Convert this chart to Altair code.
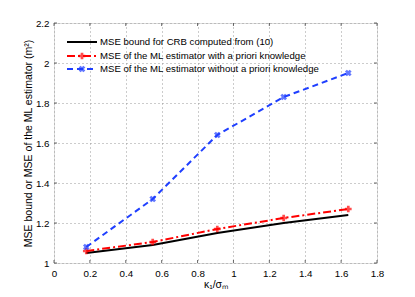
import altair as alt
import pandas as pd

x_vals = [0.18, 0.55, 0.91, 1.28, 1.64]
crb = [1.05, 1.09, 1.15, 1.20, 1.24]
ml_prior = [1.06, 1.105, 1.17, 1.225, 1.27]
ml_noprior = [1.08, 1.32, 1.64, 1.83, 1.95]

x_ticks = [0, 0.2, 0.4, 0.6, 0.8, 1, 1.2, 1.4, 1.6, 1.8]
y_ticks = [1, 1.2, 1.4, 1.6, 1.8, 2, 2.2]

names = [
    "MSE bound for CRB computed from (10)",
    "MSE of the ML estimator with a priori knowledge",
    "MSE of the ML estimator without a priori knowledge",
]
colors = ["#000000", "#ff0000", "#1f3fff"]
dashes = [[1, 0], [8, 3, 2, 3], [6, 4]]

FONT = "Liberation Sans"
W, H = 323, 240

df = pd.DataFrame({"x": x_vals, "crb": crb, "prior": ml_prior, "noprior": ml_noprior})
dfx = pd.DataFrame({"t": x_ticks})
dfy = pd.DataFrame({"t": y_ticks})

xs = alt.Scale(domain=[0, 1.8], nice=False)
ys = alt.Scale(domain=[1, 2.2], nice=False)
common = dict(grid=True, gridDash=[1, 3], gridColor="#999999", tickSize=0, labelPadding=5,
              domain=False, labelFontSize=9.8, titleFontSize=10.5, labelFont=FONT, titleFont=FONT,
              titleFontWeight="normal", labelColor="#000", titleColor="#000",
              labelOverlap=False, format="~g", labelFlush=False)
xax = alt.Axis(values=x_ticks, title="κ₁/σₘ", titlePadding=2, **common)
yax = alt.Axis(values=y_ticks, title="MSE bound or MSE of the ML estimator (m²)",
               titlePadding=2, **common)

X = alt.X("x:Q", scale=xs, axis=xax)
def Y(f):
    return alt.Y(f + ":Q", scale=ys, axis=yax)

base = alt.Chart(df)
black = base.mark_line(color=colors[0], strokeWidth=2).encode(x=X, y=Y("crb"))
red = base.mark_line(color=colors[1], strokeWidth=2, strokeDash=dashes[1]).encode(x=X, y=Y("prior"))
red_pts = base.mark_point(shape="cross", color=colors[1], filled=True, size=45).encode(x=X, y=Y("prior"))
blue = base.mark_line(color=colors[2], strokeWidth=2, strokeDash=dashes[2]).encode(x=X, y=Y("noprior"))
blue_pts = base.mark_point(shape="cross", angle=45, color=colors[2], filled=True, size=45).encode(
    x=X, y=Y("noprior"))

# inward ticks (MATLAB style)
tk = dict(color="#444444", strokeWidth=0.8)
XT = alt.X("t:Q", scale=xs, axis=xax)
YT = alt.Y("t:Q", scale=ys, axis=yax)
ticks = [
    alt.Chart(dfx).mark_rule(**tk).encode(x=XT, y=alt.value(H), y2=alt.value(H - 3)),
    alt.Chart(dfx).mark_rule(**tk).encode(x=XT, y=alt.value(0), y2=alt.value(3)),
    alt.Chart(dfy).mark_rule(**tk).encode(y=YT, x=alt.value(0), x2=alt.value(3)),
    alt.Chart(dfy).mark_rule(**tk).encode(y=YT, x=alt.value(W), x2=alt.value(W - 3)),
]

# legend
leg_y = [19, 33, 46]
layers = ticks + [black, red, blue, red_pts, blue_pts]
one = pd.DataFrame({"a": [0]})
for i in range(3):
    layers.append(alt.Chart(one).mark_rule(color=colors[i], strokeWidth=2, strokeDash=dashes[i]).encode(
        x=alt.value(13), x2=alt.value(43), y=alt.value(leg_y[i])))
    layers.append(alt.Chart(one).mark_text(align="left", baseline="middle", font=FONT, fontSize=9.6,
                                           color="#000").encode(
        x=alt.value(46), y=alt.value(leg_y[i]), text=alt.value(names[i])))
layers.append(alt.Chart(one).mark_point(shape="cross", color=colors[1], filled=True, size=45).encode(
    x=alt.value(28), y=alt.value(leg_y[1])))
layers.append(alt.Chart(one).mark_point(shape="cross", angle=45, color=colors[2], filled=True, size=45).encode(
    x=alt.value(28), y=alt.value(leg_y[2])))

chart = alt.layer(*layers).properties(
    width=W, height=H,
    autosize=alt.AutoSizeParams(type="none"),
    padding={"left": 46, "top": 15, "right": 30, "bottom": 26},
).configure_view(stroke="#555555", strokeWidth=1).configure(background="white")

chart.save("out.html", embed_options={"renderer": "svg", "actions": False})
